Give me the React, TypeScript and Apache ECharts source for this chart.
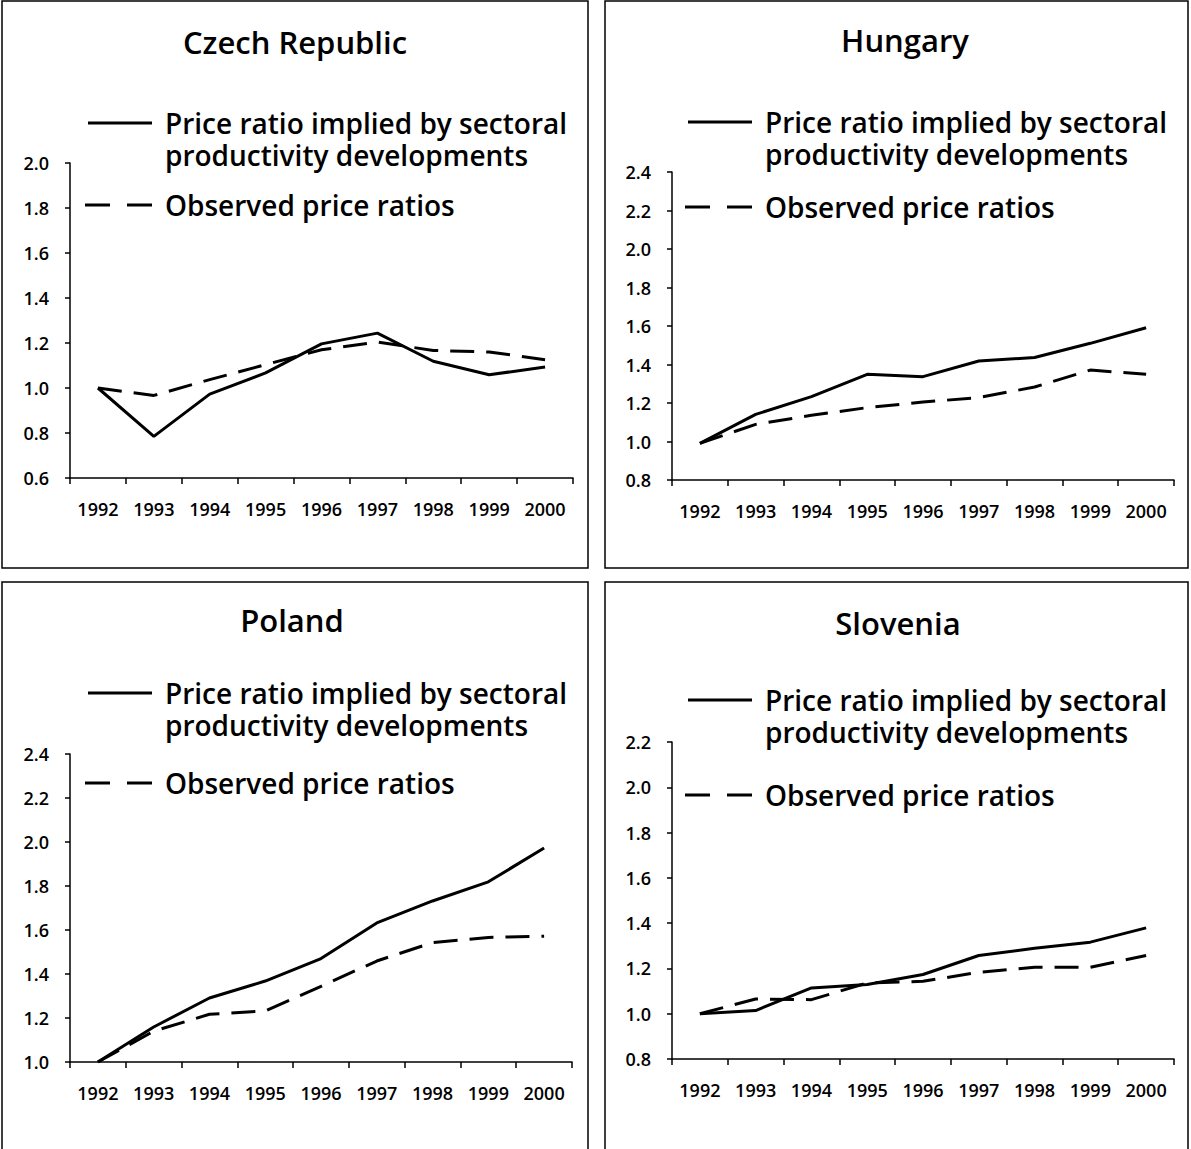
import React, { useEffect, useRef } from "react";
import * as echarts from "echarts";

const years = ["1992", "1993", "1994", "1995", "1996", "1997", "1998", "1999", "2000"];

const czechImplied = [1.0, 0.785, 0.973, 1.067, 1.196, 1.244, 1.119, 1.059, 1.093];
const czechObserved = [1.0, 0.967, 1.037, 1.104, 1.17, 1.204, 1.167, 1.16, 1.126];
const hungaryImplied = [0.99, 1.141, 1.233, 1.349, 1.337, 1.418, 1.436, 1.51, 1.591];
const hungaryObserved = [0.99, 1.089, 1.136, 1.176, 1.205, 1.228, 1.283, 1.371, 1.349];
const polandImplied = [1.0, 1.159, 1.291, 1.368, 1.47, 1.632, 1.732, 1.819, 1.973];
const polandObserved = [1.0, 1.14, 1.217, 1.232, 1.344, 1.459, 1.543, 1.566, 1.572];
const sloveniaImplied = [1.0, 1.014, 1.114, 1.129, 1.173, 1.257, 1.289, 1.316, 1.379];
const sloveniaObserved = [1.0, 1.065, 1.062, 1.136, 1.143, 1.183, 1.205, 1.205, 1.257];

const titles = ["Czech Republic", "Hungary", "Poland", "Slovenia"];
const yMins = [0.6, 0.8, 1.0, 0.8];
const yMaxs = [2.0, 2.4, 2.4, 2.2];
const legendImpliedLines = ["Price ratio implied by sectoral", "productivity developments"];
const legendObserved = "Observed price ratios";

const FONT = "'Open Sans'";

export default function App() {
  const ref = useRef<HTMLDivElement>(null);
  useEffect(() => {
    if (!ref.current) return;
    const chart = echarts.init(ref.current, null, { renderer: "svg" });

    const panels = [
      { box: [2, 1, 586, 567], grid: { left: 70, top: 163, width: 503, height: 315 }, titleY: 42, titleX: 295, legY: 123, legY2: 205, legX: 88 },
      { box: [605, 1, 583, 567], grid: { left: 672, top: 172, width: 502, height: 308 }, titleY: 40, titleX: 905, legY: 122, legY2: 207, legX: 688 },
      { box: [2, 582, 586, 600], grid: { left: 70, top: 754, width: 502, height: 308 }, titleY: 620, titleX: 292, legY: 693, legY2: 783, legX: 88 },
      { box: [605, 582, 583, 600], grid: { left: 672, top: 742, width: 502, height: 317 }, titleY: 623, titleX: 898, legY: 700, legY2: 795, legX: 688 },
    ];
    const impliedSets = [czechImplied, hungaryImplied, polandImplied, sloveniaImplied];
    const observedSets = [czechObserved, hungaryObserved, polandObserved, sloveniaObserved];

    const textStyle = (text: string) => ({
      text,
      font: `600 28px ${FONT}`,
      fill: "#000",
      textAlign: "left",
      textVerticalAlign: "middle",
    });

    const graphic: any[] = [];
    panels.forEach((p, i) => {
      graphic.push({
        type: "rect",
        shape: { x: p.box[0], y: p.box[1], width: p.box[2], height: p.box[3] },
        style: { fill: "none", stroke: "#000", lineWidth: 1.5 },
        z: 0,
      });
      graphic.push({
        type: "text",
        x: p.titleX,
        y: p.titleY,
        style: {
          text: titles[i],
          font: `600 31px ${FONT}`,
          fill: "#000",
          textAlign: "center",
          textVerticalAlign: "middle",
        },
      });
      graphic.push({
        type: "line",
        shape: { x1: p.legX, y1: p.legY, x2: p.legX + 64, y2: p.legY },
        style: { stroke: "#000", lineWidth: 3 },
      });
      legendImpliedLines.forEach((line, k) => {
        graphic.push({
          type: "text",
          x: p.legX + 77,
          y: p.legY + k * 32,
          style: textStyle(line),
        });
      });
      graphic.push({
        type: "line",
        shape: { x1: p.legX - 3, y1: p.legY2, x2: p.legX + 64, y2: p.legY2 },
        style: { stroke: "#000", lineWidth: 3, lineDash: [25, 17] },
      });
      graphic.push({
        type: "text",
        x: p.legX + 77,
        y: p.legY2,
        style: textStyle(legendObserved),
      });
    });

    const grids = panels.map((p) => ({ ...p.grid, containLabel: false }));
    const xAxes = panels.map((_, i) => ({
      type: "category",
      gridIndex: i,
      data: years,
      boundaryGap: true,
      axisLine: { lineStyle: { color: "#000", width: 1.5 } },
      axisTick: { show: true, length: 6, lineStyle: { color: "#000", width: 1.5 } },
      axisLabel: { color: "#000", fontFamily: FONT, fontWeight: 600, fontSize: 18, margin: 22 },
      splitLine: { show: false },
    }));
    const yAxes = panels.map((_, i) => ({
      type: "value",
      gridIndex: i,
      min: yMins[i],
      max: yMaxs[i],
      interval: 0.2,
      axisLine: { show: true, lineStyle: { color: "#000", width: 1.5 } },
      axisTick: { show: true, length: 5, lineStyle: { color: "#000", width: 1.5 } },
      axisLabel: {
        color: "#000",
        fontFamily: FONT,
        fontWeight: 600,
        fontSize: 18,
        margin: 21,
        formatter: (v: number) => v.toFixed(1),
      },
      splitLine: { show: false },
    }));
    const series: any[] = [];
    panels.forEach((_, i) => {
      series.push({
        type: "line",
        name: "implied",
        xAxisIndex: i,
        yAxisIndex: i,
        data: impliedSets[i],
        symbol: "none",
        lineStyle: { color: "#000", width: 3 },
      });
      series.push({
        type: "line",
        name: "observed",
        xAxisIndex: i,
        yAxisIndex: i,
        data: observedSets[i],
        symbol: "none",
        lineStyle: { color: "#000", width: 3, type: [24, 12] },
      });
    });

    chart.setOption({
      animation: false,
      backgroundColor: "#fff",
      grid: grids,
      xAxis: xAxes,
      yAxis: yAxes,
      series,
      graphic,
    });
    return () => chart.dispose();
  }, []);
  return (
    <div
      ref={ref}
      style={{ position: "absolute", left: 0, top: 0, width: 1191, height: 1149 }}
    />
  );
}
